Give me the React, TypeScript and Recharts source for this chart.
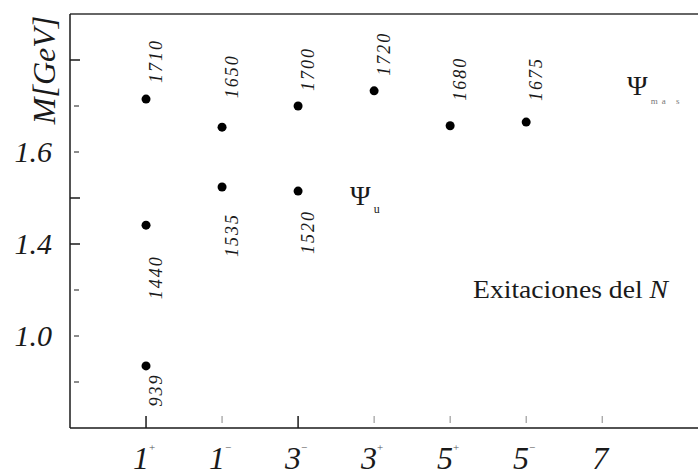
import { ScatterChart, Scatter, XAxis, YAxis, ReferenceLine } from "recharts";

// columns are 2J with parity
const columnLabels = ["1", "1", "3", "3", "5", "5", "7"];
const columnParity = ["+", "−", "−", "+", "+", "−", ""];

// nucleon states: column, mass (GeV), printed label
const stateColumn = [1, 1, 1, 2, 2, 3, 3, 4, 5, 6];
const stateMass = [0.935, 1.441, 1.715, 1.524, 1.654, 1.515, 1.7, 1.733, 1.657, 1.665];
const stateLabel = ["939", "1440", "1710", "1535", "1650", "1520", "1700", "1720", "1680", "1675"];

// y axis is broken below 1.3: the "1.0" tick sits where 1.2 would be
const yTicks = [1.1, 1.2, 1.3, 1.4, 1.5, 1.6, 1.7, 1.8];
const yTickText: Record<string, string> = { "1.2": "1.0", "1.4": "1.4", "1.6": "1.6" };
const yMajor = [1.4, 1.5, 1.8];
const xMajor = [1, 3];

const toAxis = (m: number) => (m < 1.3 ? m + 0.2 : m);

const data = stateColumn.map((c, i) => ({
  x: c,
  y: toAxis(stateMass[i]),
  label: stateLabel[i],
}));

// vertical distance from dot to label centre
const labelOffset = [24, 52, -38, 48, -51, 41, -37, -37, -47, -43];

const FONT = "'Liberation Serif', 'DejaVu Serif', serif";
const INK = "#1a1a1a";

function YTick(props: any) {
  const { x, y, payload } = props;
  const v = Number(payload.value.toFixed(1));
  const major = yMajor.includes(v);
  const text = yTickText[v.toFixed(1)];
  return (
    <g>
      <line
        x1={major ? x : x + 4}
        x2={major ? x + 10 : x + 9}
        y1={y}
        y2={y}
        stroke={major ? INK : "#666"}
        strokeWidth={1.5}
      />
      {text && (
        <text
          x={x - 18}
          y={y + 10}
          textAnchor="end"
          fontFamily={FONT}
          fontStyle="italic"
          fontSize={30}
          fill={INK}
        >
          {text}
        </text>
      )}
    </g>
  );
}

function XTick(props: any) {
  const { x, y, payload } = props;
  const v = payload.value as number;
  const major = xMajor.includes(v);
  return (
    <g>
      <line
        x1={x}
        x2={x}
        y1={major ? y : y - 5}
        y2={y - 12}
        stroke={major ? INK : "#888"}
        strokeWidth={major ? 1.5 : 1}
      />
      <text
        x={x - 2}
        y={y + 41}
        textAnchor="middle"
        fontFamily={FONT}
        fontStyle="italic"
        fontSize={32}
        fill={INK}
      >
        {columnLabels[v - 1]}
        <tspan fontSize={11} dy={-18} fontStyle="normal" fill="#555">
          {columnParity[v - 1]}
        </tspan>
      </text>
    </g>
  );
}

function StateDot(props: any) {
  const { cx, cy, payload, index } = props;
  const i = typeof index === "number" ? index : stateLabel.indexOf(payload.label);
  const tx = cx + 10;
  const ty = cy + labelOffset[i];
  return (
    <g>
      <circle cx={cx} cy={cy} r={4.5} fill="#000" />
      <text
        x={tx}
        y={ty}
        transform={`rotate(-90 ${tx} ${ty})`}
        textAnchor="middle"
        dominantBaseline="central"
        fontFamily={FONT}
        fontStyle="italic"
        fontSize={18}
        letterSpacing={2}
        fill={INK}
      >
        {payload.label}
      </text>
    </g>
  );
}

export default function App() {
  return (
    <div style={{ position: "absolute", left: 0, top: 0, background: "#fff" }}>
      <ScatterChart width={698} height={475} margin={{ top: 14, right: 0, bottom: 0, left: 0 }}>
        <XAxis
          type="number"
          dataKey="x"
          domain={[0, 8.26]}
          ticks={[1, 2, 3, 4, 5, 6, 7]}
          allowDataOverflow
          height={47}
          tickSize={0}
          tickMargin={0}
          tick={<XTick />}
          axisLine={{ stroke: INK, strokeWidth: 1.5 }}
          tickLine={false}
          interval={0}
        />
        <YAxis
          type="number"
          dataKey="y"
          domain={[1.0, 1.9]}
          ticks={yTicks}
          allowDataOverflow
          width={70}
          tickSize={0}
          tickMargin={0}
          tick={<YTick />}
          axisLine={{ stroke: INK, strokeWidth: 1.5 }}
          tickLine={false}
          interval={0}
        />
        <ReferenceLine y={1.9} stroke="#333" strokeWidth={1.5} />
        <Scatter data={data} shape={<StateDot />} isAnimationActive={false} />
        <text
          x={44}
          y={70}
          transform="rotate(-90 44 70)"
          textAnchor="middle"
          dominantBaseline="central"
          fontFamily={FONT}
          fontStyle="italic"
          fontSize={32}
          fill={INK}
        >
          M[GeV]
        </text>
        <text x={350} y={205} fontFamily={FONT} fontSize={28} fill={INK}>
          Ψ
          <tspan fontSize={12} dy={8} dx={3}>
            u
          </tspan>
        </text>
        <text x={627} y={95} fontFamily={FONT} fontSize={28} fill={INK}>
          Ψ
          <tspan fontSize={9} dy={9} dx={3} fill="#777" letterSpacing={4}>
            ma s
          </tspan>
        </text>
        <text
          x={473}
          y={298}
          fontFamily={FONT}
          fontSize={26}
          textLength={195}
          lengthAdjust="spacingAndGlyphs"
          fill={INK}
        >
          Exitaciones del <tspan fontStyle="italic">N</tspan>
        </text>
      </ScatterChart>
    </div>
  );
}
